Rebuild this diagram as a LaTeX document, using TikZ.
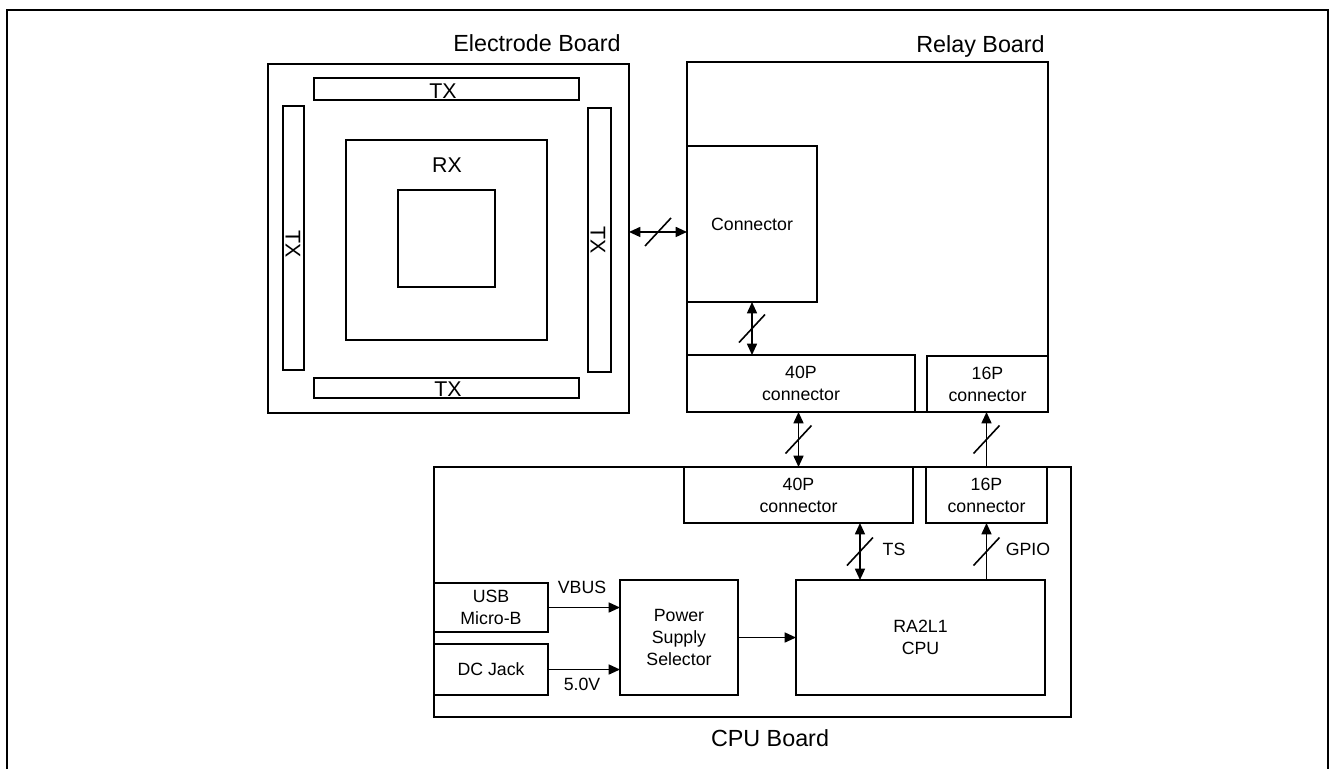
\documentclass[tikz,border=0pt]{standalone}
\usepackage{fontspec}
\setmainfont{Liberation Sans}
\usetikzlibrary{arrows.meta}
\newcommand\nbox[6]{\node[bx, minimum width={(#4-#2)*0.75pt}, minimum height={(#5-#3)*0.75pt}] (#1) at ({(#2+#4)/2},{(#3+#5)/2}) {#6};}
\begin{document}
\begin{tikzpicture}[x=0.75pt,y=-0.75pt,
  bx/.style={draw, line width=1.2pt, inner sep=0pt, outer sep=0pt, align=center, font=\fontsize{13.3}{16.5}\selectfont},
  big/.style={font=\fontsize{17.5}{21}\selectfont, inner sep=0pt},
  mid/.style={font=\fontsize{16}{19}\selectfont, inner sep=0pt},
  sm/.style={font=\fontsize{13.3}{16.5}\selectfont, inner sep=0pt},
  tip/.tip={Triangle[length=8.5pt,width=7.5pt]},
  arr/.style={line width=1.2pt, -tip},
  darr/.style={line width=1.2pt, tip-tip},
  slashline/.style={line width=1.2pt}
]
\useasboundingbox (0,0) rectangle (1330,769);
% outer frame (open at bottom)
\draw[line width=1.5pt] (6.5,769) -- (6.5,10) -- (1327.5,10) -- (1327.5,769);

% Electrode board
\nbox{elec}{268}{64}{629}{413}{}
\nbox{txtop}{314}{78}{579}{100}{}
\nbox{txbot}{314}{378}{579}{398}{}
\nbox{txleft}{283}{106}{304}{370}{}
\nbox{txright}{588}{108}{611}{372}{}
\nbox{rx}{346}{140}{547}{340}{}
\nbox{rxin}{398}{190}{495}{287}{}
\node[mid] (ltxtop) at (443,91) {TX};
\node[mid] (ltxbot) at (448,389) {TX};
\node[mid, rotate=-90] (ltxleft) at (293,244) {TX};
\node[mid, rotate=-90] (ltxright) at (598,240) {TX};
\node[mid] (lrx) at (447,165) {RX};
\node[big, anchor=base] (lelec) at (537,51) {Electrode Board};

% Relay board
\nbox{relay}{687}{62}{1048}{412}{}
\nbox{conn}{687}{146}{817}{302}{Connector}
\nbox{r40}{687}{355}{915}{412}{40P\\connector}
\nbox{r16}{927}{356}{1048}{412}{16P\\connector}
\node[big, anchor=base east] (lrelay) at (1045,52) {Relay Board};

% CPU board
\nbox{cpub}{434}{467}{1071}{717}{}
\nbox{c40}{684}{467}{913}{523}{40P\\connector}
\nbox{c16}{926}{467}{1047}{523}{16P\\connector}
\nbox{usb}{434}{583}{548}{632}{USB\\Micro-B}
\nbox{dc}{434}{644}{548}{695}{DC Jack}
\nbox{pss}{620}{580}{738}{695}{Power\\Supply\\Selector}
\nbox{cpu}{796}{580}{1045}{695}{RA2L1\\CPU}
\node[big, anchor=base] (lcpub) at (770,746) {CPU Board};

% connectors
\draw[darr] ([yshift=4.9pt]elec.east) -- ([yshift=4.9pt]elec.east -| conn.west) coordinate[midway] (m1);
\draw[slashline] (m1) ++(-13,14) -- ++(26,-28);

\draw[darr] (conn.south) -- (conn.south |- r40.north) coordinate[midway] (m2);
\draw[slashline] (m2) ++(-13,14) -- ++(26,-28);

\draw[darr] (c40.north) -- (c40.north |- r40.south) coordinate[midway] (m3);
\draw[slashline] (m3) ++(-13,14) -- ++(26,-28);

\draw[arr] (c16.north) -- (c16.north |- r16.south) coordinate[midway] (m4);
\draw[slashline] (m4) ++(-13,14) -- ++(26,-28);

\draw[darr] ([xshift=-45.4pt]cpu.north) coordinate (tsb) -- (tsb |- c40.south) coordinate[midway] (m5);
\draw[slashline] (m5) ++(-13,14) -- ++(26,-28);
\node[sm] (lts) at (894,549) {TS};

\draw[arr] (c16.south |- cpu.north) -- (c16.south) coordinate[midway] (m6);
\draw[slashline] (m6) ++(-13,14) -- ++(26,-28);
\node[sm] (lgpio) at (1028,549) {GPIO};

\draw[arr] (usb.east) -- (usb.east -| pss.west);
\node[sm] (lvbus) at (582,587) {VBUS};
\draw[arr] (dc.east) -- (dc.east -| pss.west);
\node[sm] (l5v) at (582,684) {5.0V};
\draw[arr] (pss.east) -- (pss.east -| cpu.west);
\end{tikzpicture}
\end{document}
